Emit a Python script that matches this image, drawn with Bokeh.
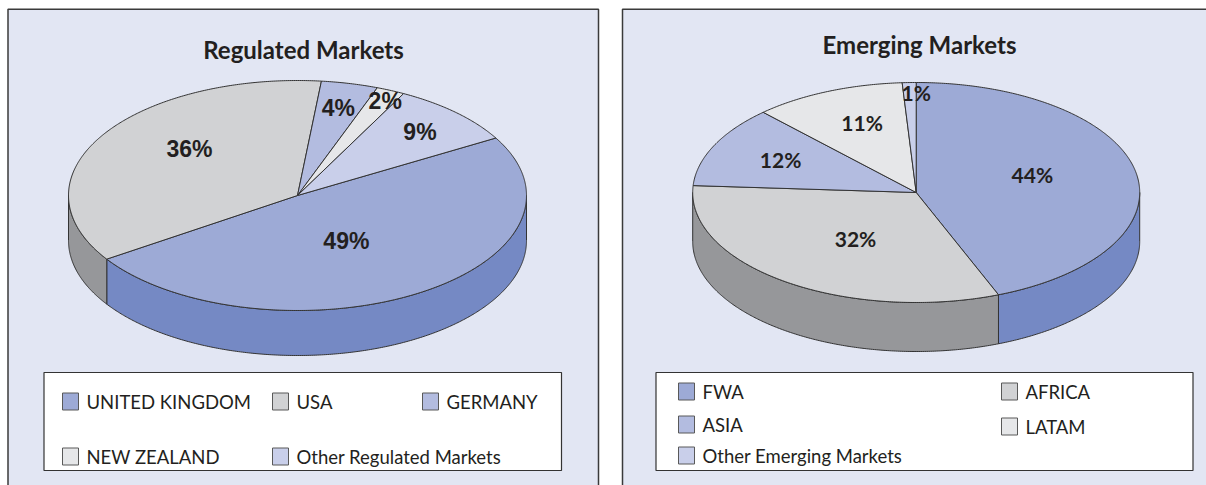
import numpy as np
from bokeh.plotting import figure
from bokeh.models import Range1d
from bokeh.core.properties import value
from bokeh.embed import file_html
from bokeh.resources import INLINE

# ---------------- data ----------------
reg_title = "Regulated Markets"
reg_labels = ["UNITED KINGDOM", "USA", "GERMANY", "NEW ZEALAND", "Other Regulated Markets"]
reg_values = [49, 36, 4, 2, 9]

emg_title = "Emerging Markets"
emg_labels = ["FWA", "AFRICA", "ASIA", "LATAM", "Other Emerging Markets"]
emg_values = [44, 32, 12, 11, 1]

# ---------------- styles ----------------
top_colors = ["#9DAAD6", "#D1D2D4", "#B3BCE0", "#E6E7E9", "#C9CFEA"]
side_colors = ["#7589C4", "#96979A", "#8F9BCB", "#B9BABD", "#A3ACD7"]
PANEL_BG = "#E2E6F3"
EDGE = "#333333"
TXT = "#231F20"

W, H = 1206, 485
p = figure(width=W, height=H, output_backend="svg", toolbar_location=None,
           x_range=Range1d(0, W), y_range=Range1d(H, 0),
           x_axis_location=None, y_axis_location=None, min_border=0,
           outline_line_color=None, background_fill_color="white",
           border_fill_color="white")
p.grid.visible = False


def arc(cx, cy, rx, ry, a0, a1):
    n = max(2, int(abs(a1 - a0) * 2) + 2)
    t = np.radians(np.linspace(a0, a1, n))
    return cx + rx * np.cos(t), cy + ry * np.sin(t)


def pie3d(values, cx, cy, rx, ry, depth, start, lab_r, lab_dt, lab_font, lab_size):
    angles = []
    a = start
    for v in values:
        angles.append((a, a + v * 3.6))
        a += v * 3.6
    # walls
    wx, wy, wc = [], [], []
    for (a0, a1), c in zip(angles, side_colors):
        for k in (-1, 0, 1):
            lo, hi = max(a0, 360 * k), min(a1, 360 * k + 180)
            if hi > lo:
                tx, ty = arc(cx, cy, rx, ry, lo, hi)
                wx.append(list(tx) + list(tx[::-1]))
                wy.append(list(ty) + list(ty[::-1] + depth))
                wc.append(c)
    p.patches(wx, wy, fill_color=wc, line_color=EDGE, line_width=1)
    # tops
    tx_, ty_ = [], []
    for (a0, a1) in angles:
        ax, ay = arc(cx, cy, rx, ry, a0, a1)
        tx_.append([cx] + list(ax))
        ty_.append([cy] + list(ay))
    p.patches(tx_, ty_, fill_color=top_colors[:len(values)], line_color=EDGE, line_width=1)
    # labels
    lx, ly, lt = [], [], []
    for (a0, a1), v, r, dt in zip(angles, values, lab_r, lab_dt):
        m = np.radians((a0 + a1) / 2 + dt)
        lx.append(cx + r * rx * np.cos(m))
        ly.append(cy + r * ry * np.sin(m))
        lt.append(f"{v}%")
    p.text(lx, ly, text=lt, text_font=value(lab_font), text_font_style="bold",
           text_font_size=lab_size, text_color=TXT, text_align="center",
           text_baseline="middle")


def legend(labels, box, cols_x, rows_y):
    l, r, t, b = box
    p.quad(left=[l], right=[r], top=[t], bottom=[b], fill_color="white",
           line_color=EDGE, line_width=1.2)
    ncol = len(cols_x)
    sx, sy = [], []
    for i, lab in enumerate(labels):
        row, col = divmod(i, ncol)
        sx.append(cols_x[col])
        sy.append(rows_y[col][row])
    p.quad(left=sx, right=[x + 16 for x in sx], top=[y - 8.5 for y in sy],
           bottom=[y + 8.5 for y in sy], fill_color=top_colors[:len(labels)],
           line_color="#595959", line_width=1)
    p.text([x + 24 for x in sx], sy, text=labels, text_font=value("Lato"),
           text_font_size="18.5px", text_color=TXT, text_align="left",
           text_baseline="middle")


# panels
p.quad(left=[7.5, 622], right=[598, 1240], top=[8.75, 8.75], bottom=[600, 600],
       fill_color=PANEL_BG, line_color="#3a3a3a", line_width=1.5)

# titles
p.text([303, 919], [49, 44], text=[reg_title, emg_title], text_font=value("Lato"),
       text_font_style="bold", text_font_size="24px", text_color=TXT,
       text_align="center", text_baseline="middle")

pie3d(reg_values, 297, 195, 229, 115, 45, -30,
      [0.45, 0.62, 0.78, 0.91, 0.77], [3.5, 9.3, 0, 0.9, 0.2],
      "Liberation Sans", "23px")
pie3d(emg_values, 915.7, 192, 223.5, 110, 49, -90,
      [0.545, 0.496, 0.677, 0.681, 0.909], [-6.7, -2.8, 1.1, 2.6, 1.8],
      "Lato", "21px")

legend(reg_labels, (43.5, 561, 372, 470), [62, 272, 422],
       [[401, 456], [401, 456], [401]])
legend(emg_labels, (655.5, 1192.5, 372, 470), [678, 1001],
       [[391, 424, 455], [391, 426]])

open("out.html", "w").write(file_html(p, INLINE))
